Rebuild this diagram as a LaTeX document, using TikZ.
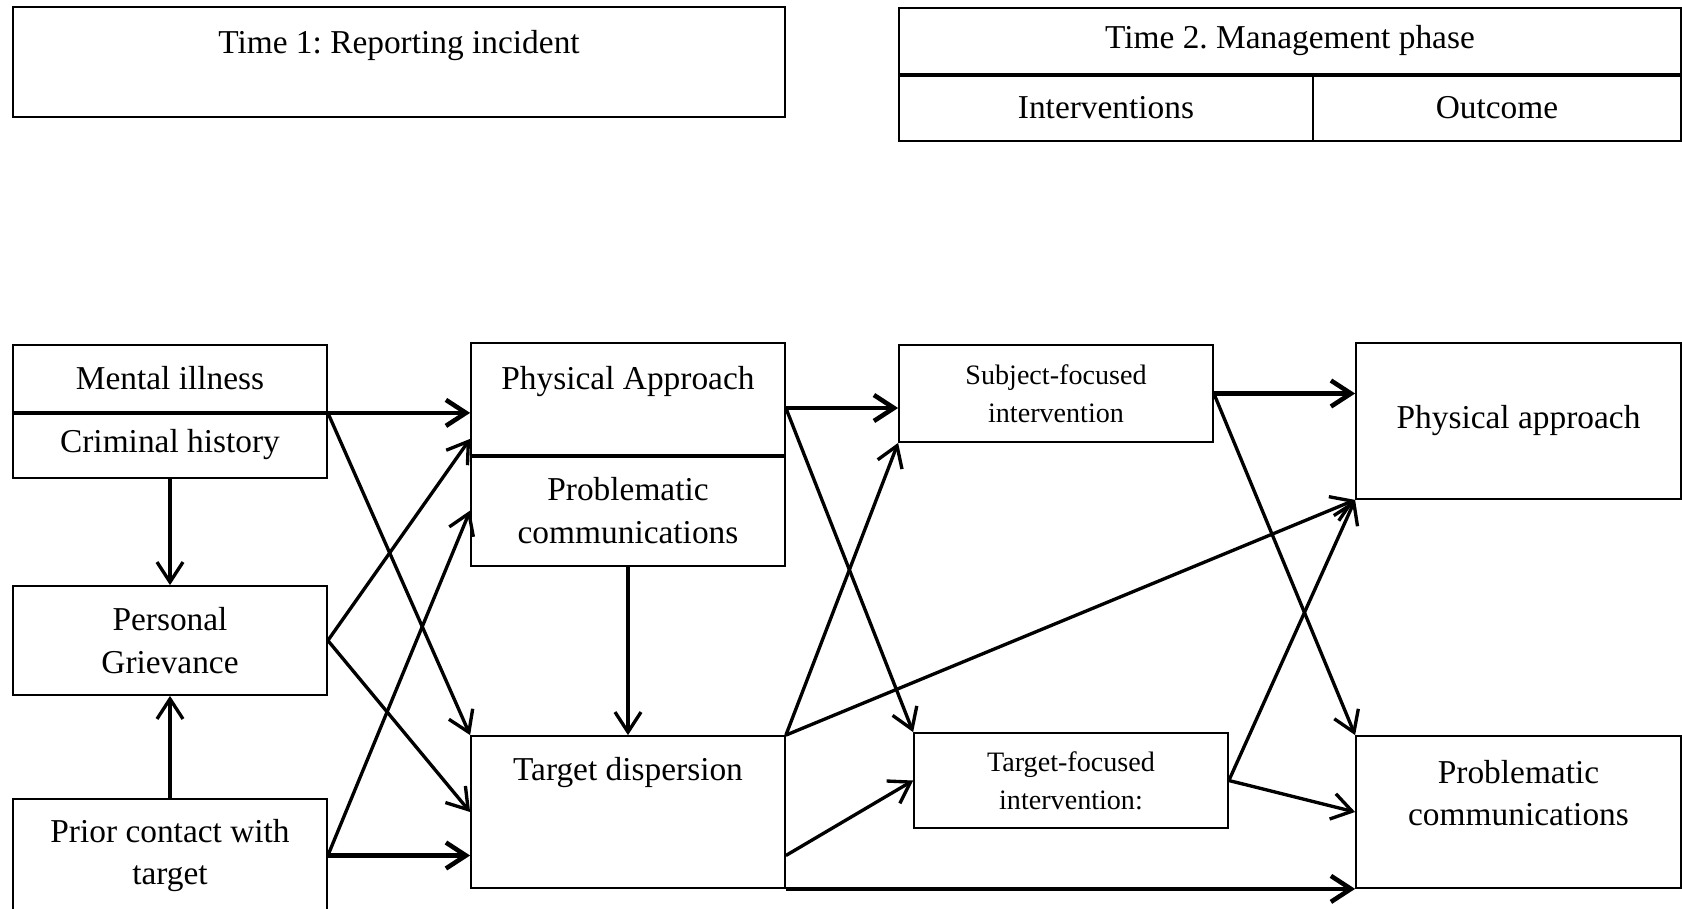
\documentclass[tikz,border=0pt]{standalone}
\usepackage{fontspec}
\setmainfont{Liberation Serif}
\usetikzlibrary{arrows.meta}
\frenchspacing

\newcommand{\boxfont}{\fontsize{9.5}{12.2}\selectfont}
\newcommand{\smallboxfont}{\fontsize{8}{10.7}\selectfont}

\tikzset{
  box/.style={draw, line width=0.5pt, inner sep=0pt, minimum width=3.14cm, align=center, font=\boxfont},
  txt/.style={inner sep=0pt, align=center, font=\boxfont},
  divider/.style={line width=1.1pt},
  flow/.style={-{Straight Barb[length=2mm,width=2.6mm]}, line width=0.95pt},
  mainflow/.style={flow, line width=1.3pt}
}

\begin{document}
\begin{tikzpicture}
  \useasboundingbox (0,0) rectangle (16.82,-9.09);

  % Header boxes
  \node[box, minimum width=7.72cm, minimum height=1.10cm] (time1) at (3.99,-0.62) {};
  \node[txt] (time1txt) at ([yshift=-3.9mm]time1.north) {Time 1: Reporting incident};

  \node[box, minimum width=7.82cm, minimum height=0.665cm] (time2) at (12.90,-0.41) {Time 2. Management phase};
  \node[box, minimum width=4.14cm, minimum height=0.665cm] (interv) at (11.06,-1.075) {Interventions};
  \node[box, minimum width=3.68cm, minimum height=0.665cm] (outcome) at (14.97,-1.075) {Outcome};
  \draw[divider] (time2.south west) -- (time2.south east);

  % Time 1 predictors
  \node[box, minimum height=0.67cm] (mental) at (1.70,-3.785) {Mental illness};
  \node[box, minimum height=0.66cm] (criminal) at (1.70,-4.45) {Criminal history};
  \draw[divider] (mental.south west) -- (mental.south east);
  \node[box, minimum height=1.09cm] (grievance) at (1.70,-6.405) {Personal\\Grievance};
  \node[box, minimum height=1.13cm] (prior) at (1.70,-8.555) {Prior contact with\\target};

  % Time 1 behaviours
  \node[box, minimum height=1.12cm] (physA) at (6.28,-3.99) {};
  \node[txt] (physAtxt) at ([yshift=-3.9mm]physA.north) {Physical Approach};
  \node[box, minimum height=1.11cm] (probC) at (6.28,-5.105) {Problematic\\communications};
  \draw[divider] (physA.south west) -- (physA.south east);
  \node[box, minimum height=1.52cm] (targetD) at (6.28,-8.12) {};
  \node[txt] (targetDtxt) at ([yshift=-3.7mm]targetD.north) {Target dispersion};

  % Interventions
  \node[box, minimum height=0.97cm, font=\smallboxfont] (subjF) at (10.56,-3.935) {Subject-focused\\intervention};
  \node[box, minimum height=0.95cm, font=\smallboxfont] (targF) at (10.71,-7.805) {Target-focused\\intervention:};

  % Outcomes
  \node[box, minimum width=3.25cm, minimum height=1.56cm] (outPA) at (15.185,-4.21) {Physical approach};
  \node[box, minimum width=3.25cm, minimum height=1.52cm] (outPC) at (15.185,-8.12) {};
  \node[txt] (outPCtxt) at ([yshift=-5.8mm]outPC.north) {Problematic\\communications};

  % Arrows from predictors
  \draw[mainflow] (mental.south east) -- (mental.south east -| physA.west);
  \draw[flow] (mental.south east) -- (targetD.north west);
  \draw[flow] (criminal.south) -- (grievance.north);
  \draw[flow] (prior.north) -- (grievance.south);
  \draw[flow] (grievance.east) -- ([yshift=1.7mm]physA.south west);
  \draw[flow] (grievance.east) -- (targetD.west);
  \draw[flow] (prior.east) -- (probC.west);
  \draw[mainflow] (prior.east) -- (prior.east -| targetD.west);
  \draw[flow] (probC.south) -- (targetD.north);

  % Arrows to interventions
  \draw[mainflow] ([yshift=-0.9mm]physA.east) -- ([yshift=-0.9mm]physA.east -| subjF.west);
  \draw[flow] ([yshift=-0.9mm]physA.east) -- (targF.north west);
  \draw[flow] (targetD.north east) -- (subjF.south west);
  \draw[flow] (prior.east -| targetD.east) -- (targF.west);

  % Arrows to outcomes
  \draw[flow] (targetD.north east) -- (outPA.south west);
  \draw[mainflow] (targetD.south east) -- (outPC.south west);
  \draw[mainflow] (subjF.east) -- (subjF.east -| outPA.west);
  \draw[flow] (subjF.east) -- (outPC.north west);
  \draw[flow] (targF.east) -- (outPA.south west);
  \draw[flow] (targF.east) -- (outPC.west);
\end{tikzpicture}
\end{document}
